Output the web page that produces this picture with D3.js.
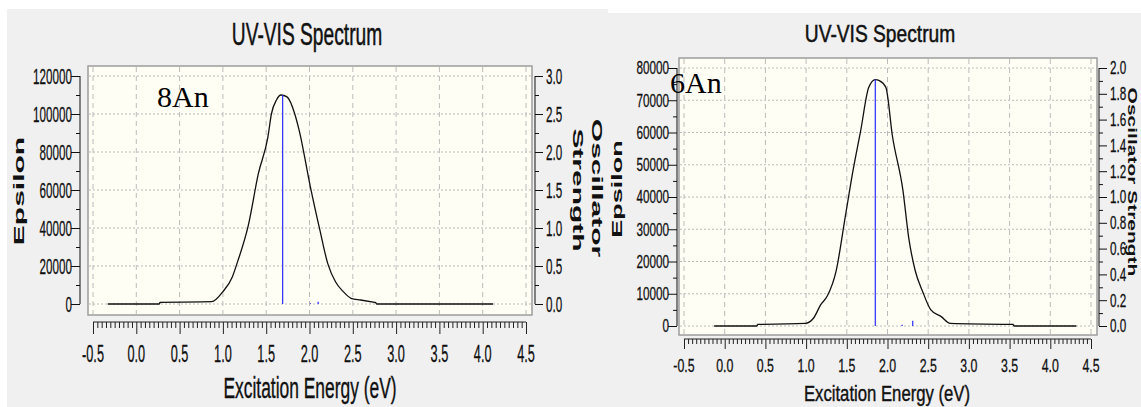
<!DOCTYPE html>
<html><head><meta charset="utf-8">
<script src="https://cdn.jsdelivr.net/npm/d3@7"></script>
<style>html,body{margin:0;padding:0;background:#fff;overflow:hidden}</style>
</head><body>
<svg id="chart" width="1141" height="407"></svg>
<script>
// ---------- DATA ----------
const xTickValues = [-0.5, 0.0, 0.5, 1.0, 1.5, 2.0, 2.5, 3.0, 3.5, 4.0, 4.5];

// 8An spectrum
const energy8An  = [-0.33, 0.27, 0.27, 0.87, 1.00, 1.11, 1.17, 1.29, 1.41, 1.52, 1.56, 1.62, 1.67, 1.74, 1.83, 1.88, 2.01, 2.12, 2.21, 2.30, 2.39, 2.48, 2.59, 2.77, 2.77, 4.12];
const epsilon8An = [0, 0, 900, 1200, 6500, 14400, 22300, 40700, 68700, 88000, 100000, 107500, 110000, 109000, 100000, 91500, 61700, 38900, 21400, 11700, 6500, 3000, 2100, 700, 0, 0];
const stickE8An  = [1.69, 2.01, 2.10];
const stickF8An  = [2.75, 0.01, 0.03];
const epsTicks8An = [0, 20000, 40000, 60000, 80000, 100000, 120000];
const oscTicks8An = [0.0, 0.5, 1.0, 1.5, 2.0, 2.5, 3.0];

// 6An spectrum
const energy6An  = [-0.13, 0.40, 0.40, 0.99, 1.09, 1.18, 1.26, 1.37, 1.48, 1.58, 1.67, 1.77, 1.85, 1.90, 1.98, 2.06, 2.19, 2.26, 2.34, 2.43, 2.53, 2.66, 2.77, 3.55, 3.55, 4.32];
const epsilon6An = [0, 0, 500, 800, 2400, 6600, 9300, 17200, 33700, 48700, 60500, 74000, 76400, 76100, 74000, 59000, 42000, 27500, 17200, 10800, 5100, 2900, 800, 500, 0, 0];
const stickE6An  = [1.85, 2.18, 2.31];
const stickF6An  = [1.91, 0.01, 0.04];
const epsTicks6An = [0, 10000, 20000, 30000, 40000, 50000, 60000, 70000, 80000];
const oscTicks6An = [0.0, 0.2, 0.4, 0.6, 0.8, 1.0, 1.2, 1.4, 1.6, 1.8, 2.0];

// ---------- DRAW ----------
const svg = d3.select("#chart");
const FONT = "'Liberation Sans', Arial, sans-serif";

function txt(g, s, x, y, o) {
  const t = g.append("text")
    .attr("transform", `translate(${x},${y}) scale(${o.sx},1) rotate(${o.rot || 0})`)
    .attr("font-family", o.family || FONT)
    .attr("font-size", o.size)
    .attr("font-weight", o.weight || "normal")
    .attr("text-anchor", o.anchor || "middle")
    .attr("fill", o.fill || "#111")
    .text(s);
  if (o.thick) t.attr("stroke", o.fill || "#111").attr("stroke-width", o.thick);
  return t;
}

function panel(c, E, EPS, SE, SF, epsTicks, oscTicks, epsMinorStep, oscMinorStep, label) {
  const g = svg.append("g");
  g.append("rect").attr("x", c.bg[0]).attr("y", c.bg[1]).attr("width", c.bg[2]).attr("height", c.bg[3]).attr("fill", "#f0f0f0");

  const x = d3.scaleLinear().domain([-0.5, 4.5]).range(c.xr);
  const y = d3.scaleLinear().domain([0, epsTicks[epsTicks.length - 1]]).range(c.yr);
  const yo = d3.scaleLinear().domain([0, oscTicks[oscTicks.length - 1]]).range(c.yr);

  // plot area
  g.append("rect").attr("x", c.px0).attr("y", c.py0).attr("width", c.px1 - c.px0).attr("height", c.py1 - c.py0)
    .attr("fill", "#fefef4").attr("stroke", "#9c9c9c").attr("stroke-width", 1.5);

  // grid
  const grid = g.append("g").attr("stroke", "#bcbcbc").attr("stroke-width", 1);
  grid.selectAll("line.v").data(xTickValues).join("line")
    .attr("x1", d => x(d)).attr("x2", d => x(d)).attr("y1", c.py0 + 1).attr("y2", c.py1 - 1)
    .attr("stroke-dasharray", "5,4");
  grid.selectAll("line.h").data(epsTicks).join("line")
    .attr("x1", c.px0 + 1).attr("x2", c.px1 - 1).attr("y1", d => y(d)).attr("y2", d => y(d))
    .attr("stroke-dasharray", "2,2");

  // spectrum curve: smooth segments between vertical steps
  const pts = E.map((e, i) => [e, EPS[i]]);
  const segs = [], steps = [];
  let cur = [pts[0]];
  for (let i = 1; i < pts.length; i++) {
    if (pts[i][0] === pts[i - 1][0]) { segs.push(cur); steps.push([pts[i - 1], pts[i]]); cur = [pts[i]]; }
    else cur.push(pts[i]);
  }
  segs.push(cur);
  const smooth = d3.line().curve(d3.curveMonotoneX).x(d => x(d[0])).y(d => y(d[1]));
  const straight = d3.line().x(d => x(d[0])).y(d => y(d[1]));
  g.selectAll("path.seg").data(segs.filter(s => s.length > 1)).join("path")
    .attr("d", smooth).attr("fill", "none").attr("stroke", "#111").attr("stroke-width", 1.3);
  g.selectAll("path.step").data(steps).join("path")
    .attr("d", straight).attr("fill", "none").attr("stroke", "#111").attr("stroke-width", 1.3);

  // oscillator sticks
  g.selectAll("line.stick").data(SE.map((e, i) => [e, SF[i]])).join("line")
    .attr("x1", d => x(d[0])).attr("x2", d => x(d[0]))
    .attr("y1", yo(0)).attr("y2", d => yo(d[1]))
    .attr("stroke", "#2b2bff").attr("stroke-width", 1.2);

  // left axis (epsilon)
  const la = g.append("g").attr("transform", `translate(${c.lax},0)`);
  la.call(d3.axisLeft(y).tickValues(d3.range(0, epsTicks[epsTicks.length - 1] + 1, epsMinorStep)).tickSize(4).tickFormat(""));
  la.call(g2 => g2.selectAll(".tick").filter(d => epsTicks.includes(d)).select("line").attr("x2", -9));
  la.selectAll("path.domain").attr("d", `M0,${y(0)}V${y(epsTicks[epsTicks.length - 1])}`);
  la.selectAll("line,path").attr("stroke", "#111");
  epsTicks.forEach(v => txt(g, String(v), c.lax - 8, y(v) + c.ytf * 0.36, {size: c.ytf, sx: c.tsx, anchor: "end", thick: 0.3}));

  // right axis (oscillator)
  const ra = g.append("g").attr("transform", `translate(${c.rax},0)`);
  const oMax = oscTicks[oscTicks.length - 1];
  ra.call(d3.axisRight(yo).tickValues(d3.range(0, Math.round(oMax / oscMinorStep) + 1).map(i => +(i * oscMinorStep).toFixed(3))).tickSize(4).tickFormat(""));
  ra.call(g2 => g2.selectAll(".tick").filter(d => oscTicks.some(t => Math.abs(t - d) < 1e-6)).select("line").attr("x2", 8));
  ra.selectAll("path.domain").attr("d", `M0,${yo(0)}V${yo(oMax)}`);
  ra.selectAll("line,path").attr("stroke", "#111");
  oscTicks.forEach(v => txt(g, v.toFixed(1), c.rax + 11, yo(v) + c.ytf * 0.36, {size: c.ytf, sx: c.tsx, anchor: "start", thick: 0.3}));

  // x ruler
  const xa = g.append("g").attr("transform", `translate(0,${c.rulerY})`);
  xa.call(d3.axisBottom(x).tickValues(d3.range(0, 101).map(i => +(-0.5 + i * 0.05).toFixed(2))).tickSize(c.minT).tickFormat(""));
  xa.call(g2 => g2.selectAll(".tick").filter(d => xTickValues.some(t => Math.abs(t - d) < 1e-6)).select("line").attr("y2", c.majT));
  xa.selectAll("path.domain").attr("d", `M${x(-0.5)},0H${x(4.5)}`);
  xa.selectAll("line,path").attr("stroke", "#222");
  xTickValues.forEach(v => txt(g, v.toFixed(1), x(v), c.xlabY, {size: c.xtf, sx: c.tsx, anchor: "middle", thick: 0.3}));

  // titles
  txt(g, "UV-VIS Spectrum", c.title[0], c.title[1], {size: c.title[2], sx: c.title[3], thick: 0.5});
  txt(g, "Excitation Energy (eV)", c.xt[0], c.xt[1], {size: c.xt[2], sx: c.xt[3], thick: 0.4});
  txt(g, "Epsilon", c.ep[0], c.ep[1], {size: c.ep[2], sx: c.ep[3], weight: "bold", rot: -90});
  c.os.forEach(o => txt(g, o.s, o.x, o.y, {size: o.f, sx: o.sx, weight: "bold", rot: 90}));

  // sample label
  txt(g, label, c.lab[0], c.lab[1], {size: c.lab[2], sx: 1, anchor: "start", family: "'Liberation Serif', 'Times New Roman', serif", fill: "#000"});
}

panel({
  bg: [7, 9, 601, 398],
  px0: 88, px1: 532, py0: 66, py1: 315,
  xr: [93, 526], yr: [304, 76],
  lax: 80, rax: 535, rulerY: 322, minT: 6, majT: 12, xlabY: 362,
  ytf: 22, xtf: 24, tsx: 0.53,
  title: [307, 45, 32, 0.6],
  xt: [310, 398, 30, 0.58],
  ep: [24, 191, 30, 0.5],
  os: [{s: "Oscillator", x: 592, y: 188, f: 30, sx: 0.5}, {s: "Strength", x: 572.5, y: 190, f: 30, sx: 0.5}],
  lab: [157, 107, 30]
}, energy8An, epsilon8An, stickE8An, stickF8An, epsTicks8An, oscTicks8An, 10000, 0.25, "8An");

panel({
  bg: [608, 13, 533, 394],
  px0: 679, px1: 1097, py0: 58, py1: 335,
  xr: [684, 1091], yr: [326, 68],
  lax: 677, rax: 1099, rulerY: 339, minT: 5, majT: 10, xlabY: 372,
  ytf: 18, xtf: 19, tsx: 0.65,
  title: [880, 42, 24, 0.8],
  xt: [887, 401, 22, 0.76],
  ep: [621.5, 189, 27, 0.55],
  os: [{s: "Oscillator Strength", x: 1128, y: 182, f: 21, sx: 0.6}],
  lab: [670, 93, 30]
}, energy6An, epsilon6An, stickE6An, stickF6An, epsTicks6An, oscTicks6An, 5000, 0.1, "6An");
</script>
</body></html>
